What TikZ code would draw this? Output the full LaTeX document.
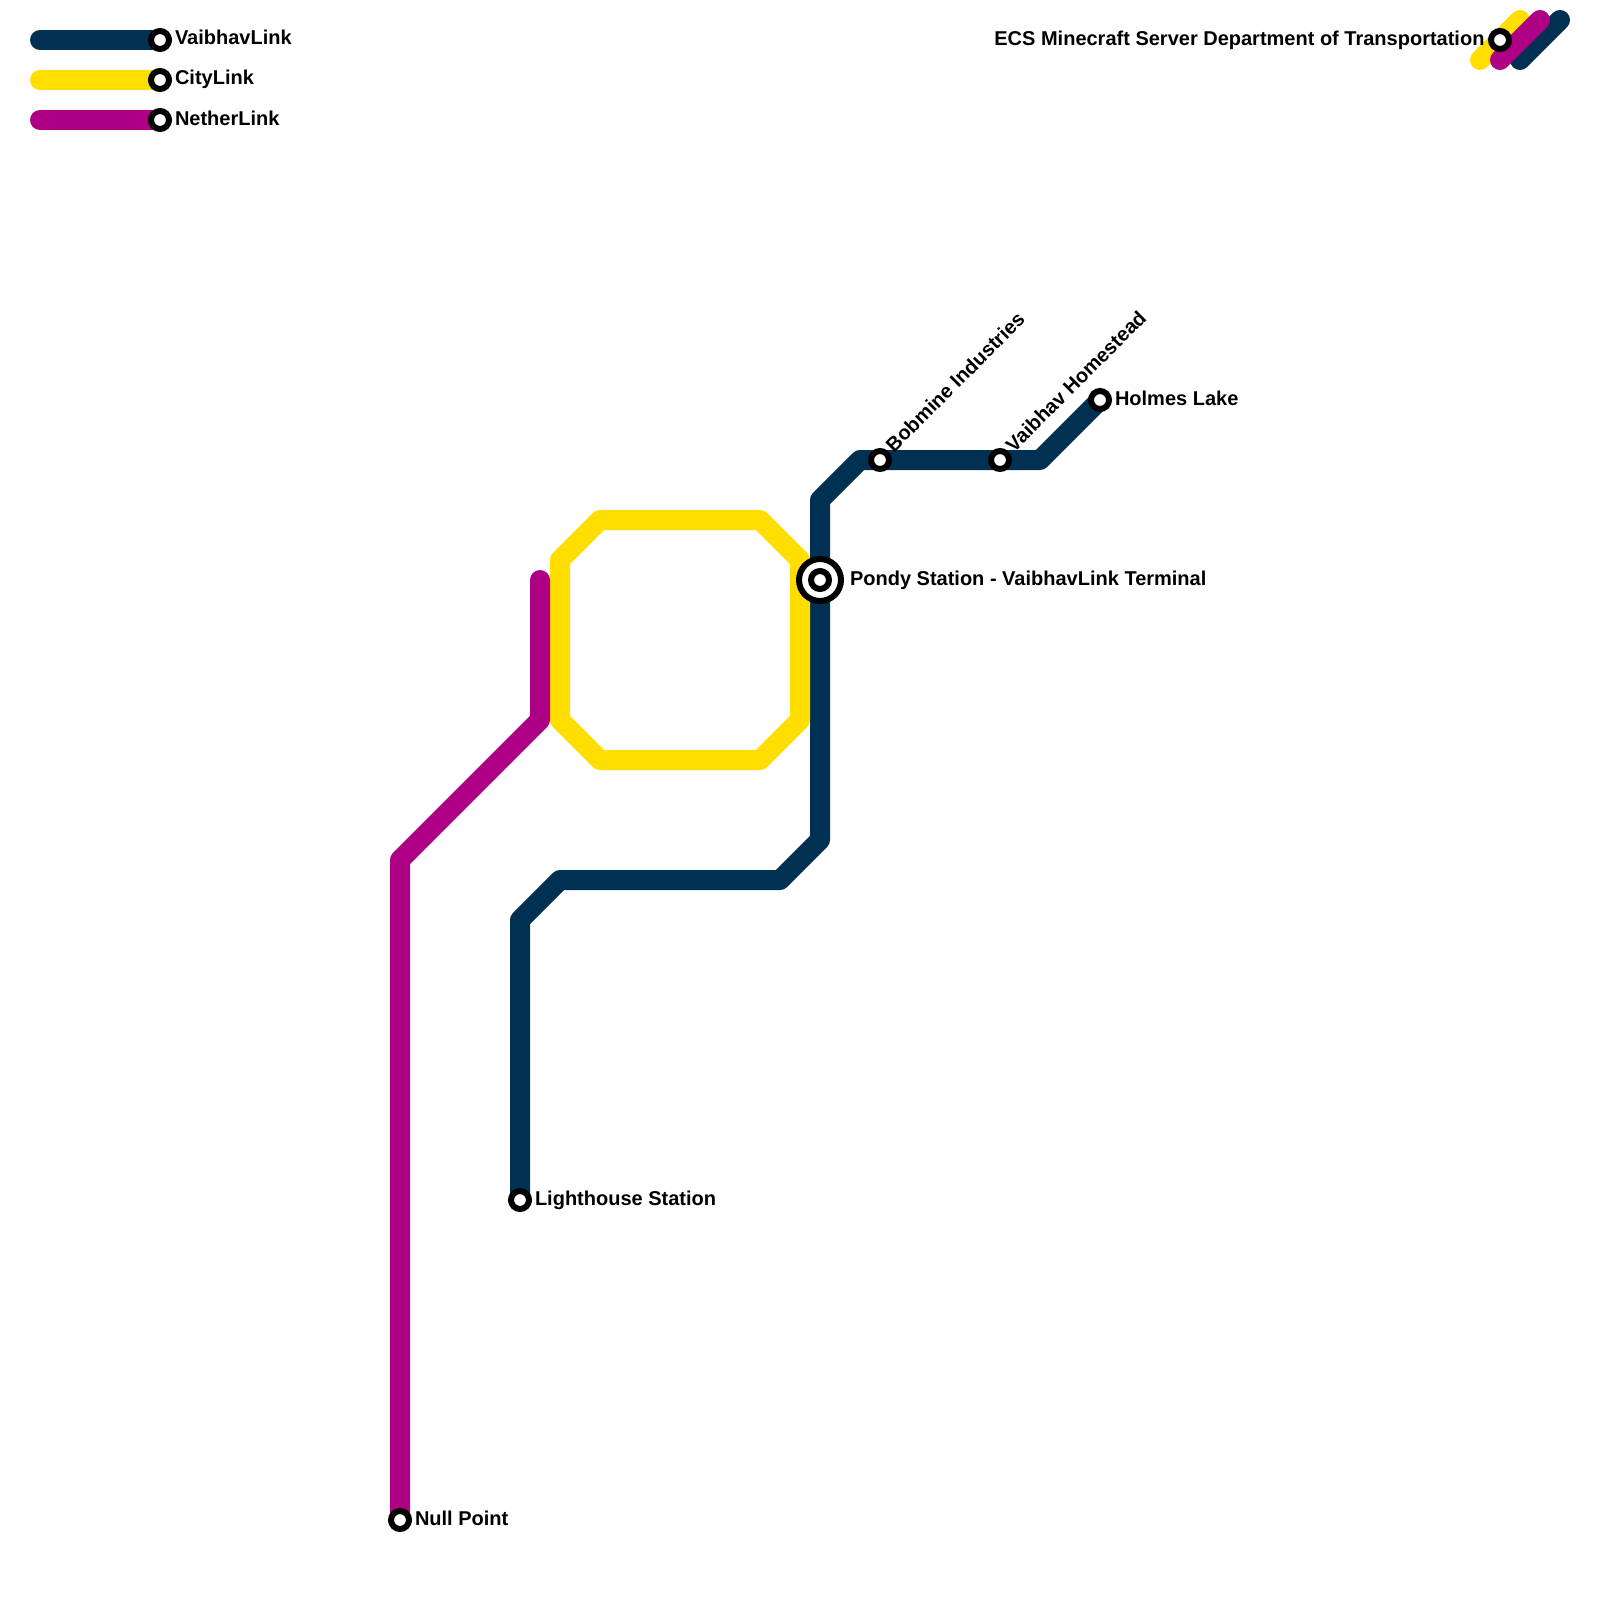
\documentclass[tikz,border=0pt]{standalone}
\usepackage{fontspec}
\setmainfont{Liberation Sans}
\definecolor{vaibhav}{HTML}{003153}
\definecolor{city}{HTML}{FFDE00}
\definecolor{nether}{HTML}{AE0084}
\tikzset{
  metro/.style={line width=20pt,line cap=round,line join=round},
  stn/.style={circle,draw=black,fill=white,line width=6pt,minimum size=18pt,inner sep=0pt,outer sep=0pt},
  stnring/.style={circle,draw=black,fill=white,line width=6pt,minimum size=42pt,inner sep=0pt,outer sep=0pt},
  lbl/.style={inner sep=0pt,outer sep=0pt,font=\fontsize{20}{24}\selectfont\bfseries,text=black},
}
\begin{document}
\begin{tikzpicture}[x=1pt,y=-1pt]
\useasboundingbox[fill=white] (0,0) rectangle (1600,1600);
% bends and free ends
\coordinate (la) at (40,40);
\coordinate (lb) at (40,80);
\coordinate (lc) at (40,120);
\coordinate (v1) at (820,500);
\coordinate (v2) at (860,460);
\coordinate (v3) at (1040,460);
\coordinate (v4) at (820,840);
\coordinate (v5) at (780,880);
\coordinate (v6) at (560,880);
\coordinate (v7) at (520,920);
\coordinate (c1) at (560,560);
\coordinate (c2) at (600,520);
\coordinate (c3) at (760,520);
\coordinate (c4) at (800,560);
\coordinate (c5) at (800,720);
\coordinate (c6) at (760,760);
\coordinate (c7) at (600,760);
\coordinate (c8) at (560,720);
\coordinate (n1) at (540,580);
\coordinate (n2) at (540,720);
\coordinate (n3) at (400,860);
\coordinate (ty1) at (1480,60);
\coordinate (ty2) at (1520,20);
\coordinate (tn1) at (1500,60);
\coordinate (tn2) at (1540,20);
\coordinate (tv1) at (1520,60);
\coordinate (tv2) at (1560,20);
% station centres
\coordinate (sa) at (160,40);
\coordinate (sb) at (160,80);
\coordinate (sc) at (160,120);
\coordinate (secs) at (1500,40);
\coordinate (spondy) at (820,580);
\coordinate (sbob) at (880,460);
\coordinate (shome) at (1000,460);
\coordinate (sholmes) at (1100,400);
\coordinate (slight) at (520,1200);
\coordinate (snull) at (400,1520);
% lines
\draw[metro,vaibhav] (la) -- (sa);
\draw[metro,vaibhav] (tv1) -- (tv2);
\draw[metro,vaibhav] (slight) -- (v7) -- (v6) -- (v5) -- (v4) -- (spondy) -- (v1) -- (v2) -- (sbob) -- (shome) -- (v3) -- (sholmes);
\draw[metro,city] (lb) -- (sb);
\draw[metro,city] (ty1) -- (ty2);
\draw[metro,city] (c1) -- (c2) -- (c3) -- (c4) -- (c5) -- (c6) -- (c7) -- (c8) -- cycle;
\draw[metro,nether] (lc) -- (sc);
\draw[metro,nether] (tn1) -- (tn2);
\draw[metro,nether] (n1) -- (n2) -- (n3) -- (snull);
% stations
\node[stn] (na) at (sa) {};
\node[stn] (nb) at (sb) {};
\node[stn] (nc) at (sc) {};
\node[stn] (necs) at (secs) {};
\node[stnring] (npr) at (spondy) {};
\node[stn] (npondy) at (spondy) {};
\node[stn] (nbob) at (sbob) {};
\node[stn] (nhome) at (shome) {};
\node[stn] (nholmes) at (sholmes) {};
\node[stn] (nlight) at (slight) {};
\node[stn] (nnull) at (snull) {};
% labels
\node[lbl,anchor=base west] (ta) at (175,45) {VaibhavLink};
\node[lbl,anchor=base west] (tb) at (175,85) {CityLink};
\node[lbl,anchor=base west] (tc) at (175,125) {NetherLink};
\node[lbl,anchor=base east] (tecs) at (1484.5,46) {ECS Minecraft Server Department of Transportation};
\node[lbl,anchor=base west] (tpondy) at (850,585) {Pondy Station - VaibhavLink Terminal};
\node[lbl,anchor=base west,rotate=45] (tbob) at (894,453) {Bobmine Industries};
\node[lbl,anchor=base west,rotate=45] (thome) at (1014,453) {Vaibhav Homestead};
\node[lbl,anchor=base west] (tholmes) at (1115,405) {Holmes Lake};
\node[lbl,anchor=base west] (tlight) at (535,1205) {Lighthouse Station};
\node[lbl,anchor=base west] (tnull) at (415,1525) {Null Point};
\end{tikzpicture}
\end{document}
